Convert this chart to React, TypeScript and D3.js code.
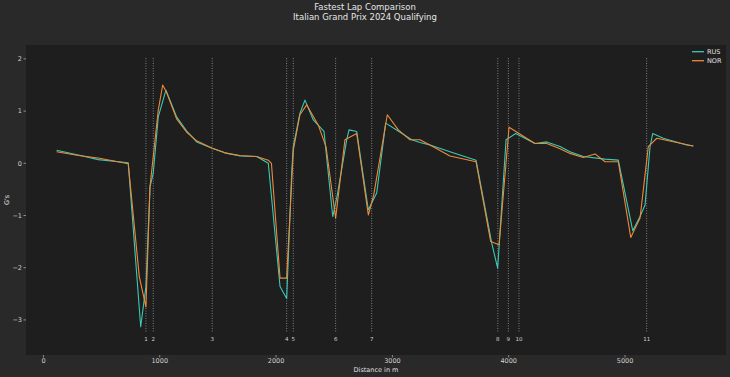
import React from "react";
import * as d3 from "d3";

const rusDist = [113, 300, 471, 729, 836, 881, 916, 944, 987, 1053, 1145, 1230, 1317, 1451, 1560, 1690, 1833, 1933, 2034, 2091, 2134, 2148, 2205, 2248, 2320, 2412, 2487, 2527, 2607, 2627, 2693, 2793, 2865, 2942, 3050, 3166, 3237, 3323, 3495, 3719, 3854, 3905, 3977, 4060, 4226, 4327, 4441, 4527, 4641, 4828, 4942, 5066, 5129, 5172, 5215, 5238, 5329, 5530, 5587];
const rusG = [0.25, 0.16, 0.07, 0.01, -3.13, -2.36, -0.45, -0.19, 0.89, 1.4, 0.89, 0.62, 0.41, 0.29, 0.2, 0.14, 0.13, 0.0, -2.36, -2.59, -0.19, 0.32, 0.96, 1.21, 0.83, 0.61, -1.02, -0.6, 0.45, 0.64, 0.61, -0.89, -0.57, 0.77, 0.62, 0.45, 0.4, 0.35, 0.22, 0.06, -1.53, -2.01, 0.45, 0.57, 0.38, 0.41, 0.32, 0.22, 0.13, 0.08, 0.06, -1.29, -1.02, -0.8, 0.32, 0.57, 0.48, 0.35, 0.33];

const norDist = [113, 300, 471, 729, 824, 881, 916, 987, 1025, 1060, 1145, 1230, 1317, 1451, 1560, 1690, 1833, 1933, 1960, 2034, 2091, 2148, 2205, 2263, 2363, 2429, 2512, 2592, 2693, 2793, 2840, 2956, 3051, 3151, 3237, 3323, 3495, 3719, 3845, 3917, 4003, 4226, 4327, 4441, 4527, 4641, 4742, 4828, 4942, 5049, 5129, 5200, 5273, 5587];
const norG = [0.22, 0.15, 0.1, -0.01, -2.17, -2.75, -0.45, 1.02, 1.5, 1.35, 0.85, 0.6, 0.43, 0.29, 0.2, 0.15, 0.13, 0.06, 0.0, -2.2, -2.2, 0.25, 0.93, 1.12, 0.73, 0.32, -1.05, 0.45, 0.57, -0.99, -0.6, 0.93, 0.64, 0.45, 0.45, 0.35, 0.14, 0.03, -1.5, -1.56, 0.69, 0.38, 0.38, 0.28, 0.19, 0.11, 0.18, 0.03, 0.03, -1.42, -1.05, 0.32, 0.48, 0.33];

const cornerNumbers = ["1", "2", "3", "4", "5", "6", "7", "8", "9", "10", "11"];
const cornerDist = [881, 944, 1451, 2091, 2148, 2512, 2822, 3906, 3997, 4088, 5186];

const xTicks = [0, 1000, 2000, 3000, 4000, 5000];
const yTicks = [2, 1, 0, -1, -2, -3];

const drivers = ["RUS", "NOR"];
const colors = ["#3cc9b4", "#ec8a3c"];

const W = 730, H = 377;
const plot = { left: 26, right: 726, top: 45, bottom: 355 };
const FONT = "DejaVu Sans, sans-serif";

export default function App() {
  const x = d3.scaleLinear().domain([-150, 5868]).range([plot.left, plot.right]);
  const y = d3.scaleLinear().domain([-3.672, 2.266]).range([plot.bottom, plot.top]);

  const series = [
    rusDist.map((d, i) => [d, rusG[i]] as [number, number]),
    norDist.map((d, i) => [d, norG[i]] as [number, number]),
  ];
  const line = d3.line<[number, number]>().x((p) => x(p[0])).y((p) => y(p[1]));

  const vTop = 2.017, vBot = -3.23, lblY = -3.36;

  return (
    <svg width={W} height={H} style={{ position: "absolute", left: 0, top: 0, display: "block" }} fontFamily={FONT}>
      <rect x={0} y={0} width={W} height={H} fill="#292929" />
      <rect x={plot.left} y={plot.top} width={plot.right - plot.left} height={plot.bottom - plot.top} fill="#1e1e1e" />
      <text x={365} y={10} textAnchor="middle" fontSize={8.5} fill="#e6e6e6">Fastest Lap Comparison</text>
      <text x={365} y={19.5} textAnchor="middle" fontSize={8.5} fill="#e6e6e6">Italian Grand Prix 2024 Qualifying</text>

      {cornerDist.map((d, i) => (
        <g key={"c" + i}>
          <line x1={x(d)} x2={x(d)} y1={y(vTop)} y2={y(vBot)} stroke="#9a9a9a" strokeWidth={0.8} strokeDasharray="1,1.5" />
          <text x={x(d)} y={y(lblY)} dy="0.35em" textAnchor="middle" fontSize={5.5} fill="#d0d0d0">{cornerNumbers[i]}</text>
        </g>
      ))}

      {series.map((s, i) => (
        <path key={"s" + i} d={line(s) || ""} fill="none" stroke={colors[i]} strokeWidth={1.1} strokeLinejoin="round" />
      ))}

      {xTicks.map((t) => (
        <g key={"x" + t}>
          <line x1={x(t)} x2={x(t)} y1={plot.bottom} y2={plot.bottom + 2.5} stroke="#d0d0d0" strokeWidth={0.6} />
          <text x={x(t)} y={plot.bottom + 8} textAnchor="middle" fontSize={6.5} fill="#d0d0d0">{t}</text>
        </g>
      ))}
      <text x={(plot.left + plot.right) / 2} y={372} textAnchor="middle" fontSize={6.5} fill="#e0e0e0">Distance in m</text>

      {yTicks.map((t) => (
        <g key={"y" + t}>
          <line x1={plot.left - 2.5} x2={plot.left} y1={y(t)} y2={y(t)} stroke="#d0d0d0" strokeWidth={0.6} />
          <text x={plot.left - 4} y={y(t)} dy="0.35em" textAnchor="end" fontSize={6.5} fill="#d0d0d0">{t < 0 ? "\u2212" + Math.abs(t) : t}</text>
        </g>
      ))}
      <text transform={`translate(7,${(plot.top + plot.bottom) / 2}) rotate(-90)`} textAnchor="middle" dy="0.35em" fontSize={6.5} fill="#e0e0e0">G's</text>

      {drivers.map((dr, i) => (
        <g key={"l" + i}>
          <line x1={692} x2={704} y1={51.7 + i * 9} y2={51.7 + i * 9} stroke={colors[i]} strokeWidth={1.3} />
          <text x={707} y={51.7 + i * 9} dy="0.35em" fontSize={6.5} fill="#e0e0e0">{dr}</text>
        </g>
      ))}
    </svg>
  );
}
